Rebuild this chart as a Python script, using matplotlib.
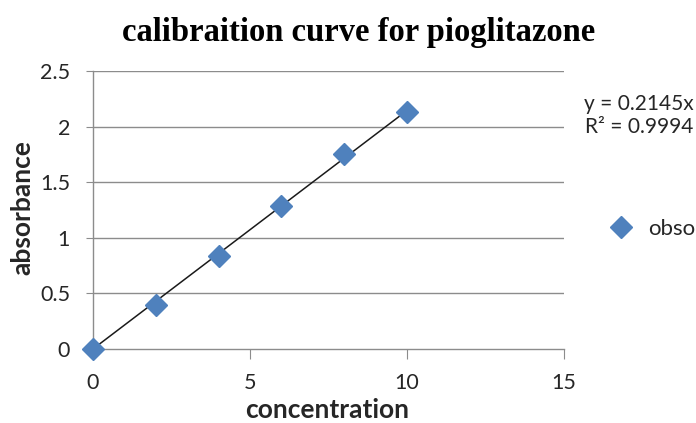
import matplotlib
matplotlib.use("Agg")
import matplotlib.pyplot as plt
import numpy as np

concentration = [0, 2, 4, 6, 8, 10]
absorbance = [0.0, 0.40, 0.84, 1.29, 1.75, 2.13]
slope = 0.2145
r2 = 0.9994
series_name = "obso"
x_ticks = [0, 5, 10, 15]
y_ticks = [0, 0.5, 1, 1.5, 2, 2.5]
y_tick_labels = ["0", "0.5", "1", "1.5", "2", "2.5"]

fig = plt.figure(figsize=(6.96, 4.23), dpi=100)
ax = fig.add_axes([0.1336, 0.175, 0.6767, 0.657])

grid_c = "#8c8c8c"
txt_c = "#262626"
ax.set_xlim(0, 15)
ax.set_ylim(0, 2.5)
ax.set_yticks(y_ticks)
ax.set_yticklabels(y_tick_labels)
ax.set_xticks(x_ticks)
for y in y_ticks[1:]:
    ax.axhline(y, color=grid_c, lw=1, zorder=1)

for s in ["top", "right"]:
    ax.spines[s].set_visible(False)
for s in ["left", "bottom"]:
    ax.spines[s].set_color(grid_c)
    ax.spines[s].set_linewidth(1)

ax.tick_params(axis="x", direction="out", length=7, color=grid_c, labelsize=15.5, pad=10)
ax.tick_params(axis="y", direction="out", length=5, color=grid_c, labelsize=15.5, pad=11.5)
for lbl in ax.get_xticklabels() + ax.get_yticklabels():
    lbl.set_fontfamily("Lato")
    lbl.set_color(txt_c)

xs = np.array([min(concentration), max(concentration)])
ax.plot(xs, slope * xs, color="#1a1a1a", lw=1.1, zorder=3)
ax.plot(concentration, absorbance, linestyle="none", marker="D", ms=11,
        color="#4F81BD", markeredgecolor="#4F81BD", zorder=4, clip_on=False,
        label=series_name)

fig.text(0.515, 0.922, "calibraition curve for pioglitazone", ha="center", va="center",
         fontsize=23.5, fontweight="bold", family="Liberation Serif")
ax.set_xlabel("concentration", fontsize=19, fontweight="bold", family="Lato", color=txt_c)
ax.set_ylabel("absorbance", fontsize=19, fontweight="bold", family="Lato", color=txt_c)
ax.xaxis.set_label_coords(0.498, -0.176)
ax.yaxis.set_label_coords(-0.125, 0.509)

fig.text(0.996, 0.755, "y = 0.2145x", ha="right", va="center", fontsize=15,
         family="Lato", color=txt_c)
fig.text(0.996, 0.700, "R² = 0.9994", ha="right", va="center", fontsize=15,
         family="Lato", color=txt_c)

leg = fig.legend(loc="center left", bbox_to_anchor=(0.848, 0.458), frameon=False,
                 prop={"family": "Lato", "size": 16}, handletextpad=0.7,
                 handlelength=1.0, borderpad=0.4)
for t in leg.get_texts():
    t.set_color(txt_c)

fig.savefig("out.png", dpi=100)
